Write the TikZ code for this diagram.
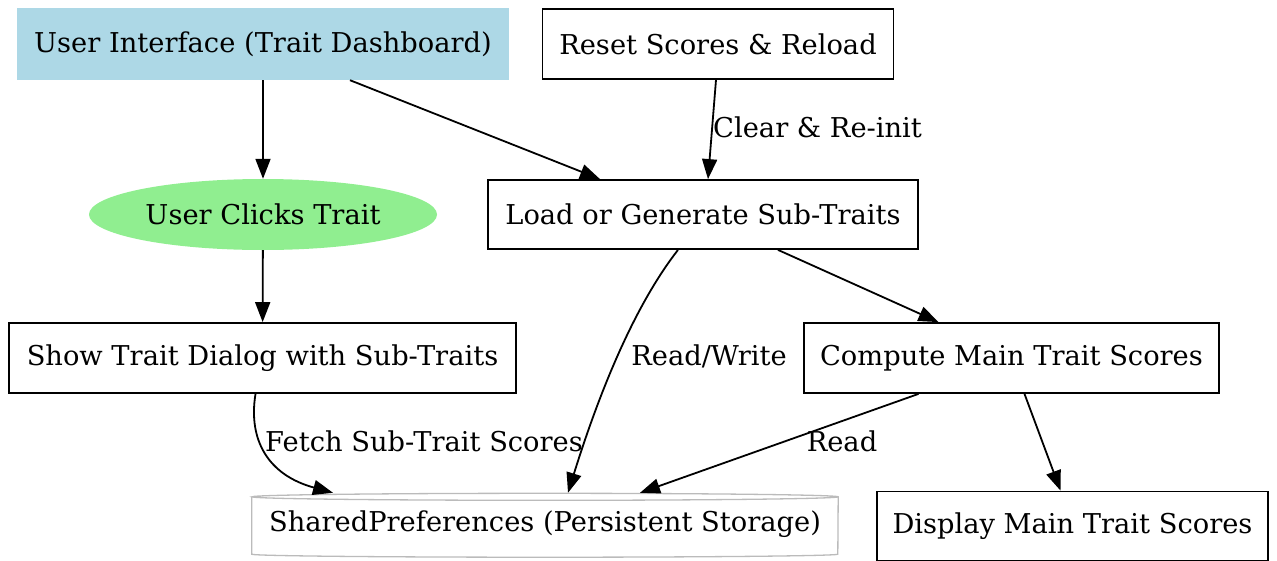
\documentclass[tikz,border=0pt]{standalone}
\usepackage{fontspec}
\setmainfont{DejaVu Serif}
\usetikzlibrary{arrows.meta,shapes.geometric}
\definecolor{lblue}{HTML}{ADD8E6}
\definecolor{lgreen}{HTML}{90EE90}
\definecolor{cylgray}{HTML}{BBBBBB}
\begin{document}
\begin{tikzpicture}[x=1pt,y=-1pt,
  font=\fontsize{27.3}{32}\selectfont,
  box/.style={draw, line width=1.8pt, minimum height=70pt, inner sep=0pt},
  arr/.style={line width=1.8pt, -{Triangle[length=20pt,width=15pt]}},
  lbl/.style={inner sep=0pt}]
\useasboundingbox (0,0) rectangle (1277,560);
\node[fill=lblue, minimum width=492pt, minimum height=72pt, inner sep=0pt] (ui) at (263,44) {User Interface (Trait Dashboard)};
\node[box, minimum width=351pt] (reset) at (718,44) {Reset Scores \& Reload};
\node[box, minimum width=430pt, minimum height=69pt] (load) at (703,214.5) {Load or Generate Sub-Traits};
\node[ellipse, fill=lgreen, minimum width=348pt, minimum height=71pt, inner sep=0pt] (clicks) at (263,214.5) {User Clicks Trait};
\node[box, minimum width=507pt] (show) at (262.5,358) {Show Trait Dialog with Sub-Traits};
\node[box, minimum width=415pt] (compute) at (1011.5,358) {Compute Main Trait Scores};
\node[minimum width=586pt, minimum height=63pt, inner sep=0pt] (shared) at (545,524.5) {SharedPreferences (Persistent Storage)};
\node[box, minimum width=391pt, minimum height=69pt] (display) at (1072.5,526) {Display Main Trait Scores};
% cylinder outline
\draw[cylgray, line width=1.3pt]
  ([yshift=-4pt]shared.north west) -- ([yshift=2pt]shared.south west)
  arc[start angle=180, end angle=360, x radius=293pt, y radius=3pt]
  -- ([yshift=-4pt]shared.north east)
  arc[start angle=0, end angle=360, x radius=293pt, y radius=3.5pt];
% edges
\draw[arr] (ui) -- (clicks);
\draw[arr] ([xshift=87pt]ui.south) -- ([xshift=-103pt]load.north);
\draw[arr] ([xshift=-2pt]reset.south) -- ([xshift=5pt]load.north);
\node[lbl, anchor=west] (l1) at (713,127) {Clear \& Re-init};
\draw[arr] (clicks) -- (show);
\draw[arr] ([xshift=75pt]load.south) -- ([xshift=-73pt]compute.north);
\draw[arr] ([xshift=-25pt]load.south) .. controls (635,305) and (600,390) .. ([xshift=23pt]shared.north);
\node[lbl] (l2) at (709,356) {Read/Write};
\draw[arr] ([xshift=-7pt]show.south) .. controls (248,440) and (268,475) .. ([xshift=-212pt]shared.north);
\node[lbl, anchor=west] (l3) at (265,441) {Fetch Sub-Trait Scores};
\draw[arr] ([xshift=-93pt]compute.south) -- ([xshift=95pt]shared.north);
\node[lbl] (l4) at (842,441) {Read};
\draw[arr] ([xshift=13pt]compute.south) -- ([xshift=-12pt]display.north);
\end{tikzpicture}
\end{document}
